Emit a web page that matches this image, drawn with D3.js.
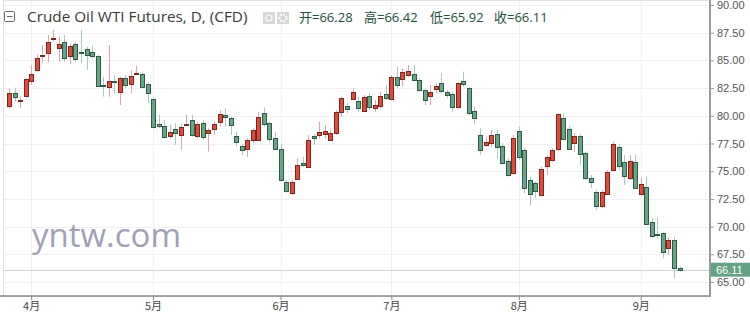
<!doctype html>
<html>
<head>
<meta charset="UTF-8">
<title>Crude Oil WTI Futures, D</title>
<style>
  body { margin: 0; background: #fff; }
  svg { display: block; }
</style>
</head>
<body>
<div id="chart"></div>
<script src="https://cdn.jsdelivr.net/npm/d3@7"></script>
<script>
// daily candles, late March to 11 Sep
var opens = [80.82, 82.03, 81.34, 81.73, 83.17, 84.07, 85.40, 85.73, 86.90, 86.15,
  86.69, 85.40, 86.45, 85.80, 86.03, 85.79, 85.43, 82.78, 82.63, 83.10,
  82.18, 83.44, 82.84, 83.80, 83.77, 82.84, 81.52, 79.23, 79.11, 78.21,
  78.78, 78.33, 79.20, 79.62, 78.18, 79.32, 78.42, 78.81, 79.41, 80.07,
  79.83, 78.18, 77.30, 77.00, 77.81, 77.81, 80.28, 79.32, 77.97, 76.97,
  74.06, 73.06, 74.30, 75.71, 75.35, 78.15, 78.27, 78.36, 77.87, 78.48,
  80.37, 80.88, 81.52, 81.37, 80.46, 81.79, 80.73, 80.88, 81.97, 81.49,
  83.53, 83.32, 83.68, 83.74, 83.23, 82.33, 81.82, 82.39, 82.93, 82.18,
  81.97, 80.82, 83.17, 82.48, 80.46, 78.27, 77.43, 77.52, 78.33, 77.30,
  75.95, 74.81, 78.66, 76.91, 74.21, 73.91, 72.85, 75.41, 76.01, 77.00,
  79.77, 78.81, 77.52, 78.21, 76.61, 74.42, 73.15, 71.86, 72.91, 75.11,
  77.22, 75.80, 74.45, 75.86, 72.91, 73.60, 70.38, 69.30, 69.39, 68.10,
  68.79, 66.28];
var highs = [82.48, 82.54, 81.82, 83.38, 84.59, 85.55, 86.39, 87.29, 87.74, 87.14,
  87.29, 86.54, 86.69, 87.74, 86.24, 86.33, 85.49, 83.53, 86.39, 83.68,
  83.53, 83.68, 84.13, 84.52, 83.98, 83.08, 81.58, 80.07, 79.62, 79.17,
  79.32, 79.23, 80.07, 80.07, 79.47, 79.62, 78.87, 79.47, 80.52, 80.67,
  79.92, 78.57, 77.51, 77.97, 78.87, 80.37, 80.76, 79.47, 78.57, 77.51,
  74.21, 74.21, 76.16, 76.31, 78.27, 78.36, 79.47, 79.17, 78.72, 80.52,
  81.73, 81.13, 82.48, 81.73, 81.88, 82.03, 81.43, 82.18, 82.78, 83.68,
  84.43, 84.28, 84.58, 84.58, 83.38, 82.48, 82.78, 82.93, 83.83, 82.33,
  82.18, 83.08, 83.98, 82.57, 80.82, 78.87, 78.12, 78.72, 78.72, 77.52,
  76.16, 78.27, 79.02, 77.07, 74.51, 74.06, 75.41, 76.46, 77.07, 80.22,
  80.22, 79.11, 78.42, 78.33, 76.76, 74.66, 73.30, 73.30, 75.11, 77.67,
  77.43, 76.46, 76.46, 76.52, 74.42, 74.51, 70.75, 70.81, 69.54, 69.09,
  69.09, 66.42];
var lows = [80.67, 81.28, 80.67, 81.64, 82.78, 83.98, 84.74, 84.83, 86.70, 84.89,
  84.89, 84.65, 84.89, 84.74, 84.14, 85.19, 82.63, 81.73, 81.73, 82.03,
  80.97, 82.48, 82.03, 83.68, 82.48, 81.12, 78.87, 78.87, 77.97, 77.97,
  77.37, 76.92, 79.17, 78.12, 77.97, 77.82, 76.77, 78.27, 79.02, 79.02,
  78.27, 77.21, 76.46, 76.31, 77.51, 77.81, 79.02, 77.67, 76.91, 74.06,
  73.06, 72.85, 74.21, 75.41, 75.26, 77.36, 77.97, 77.97, 77.81, 78.27,
  79.92, 80.22, 81.43, 80.37, 80.37, 80.52, 80.37, 80.67, 81.43, 81.43,
  82.48, 82.63, 83.53, 83.08, 82.18, 80.97, 80.97, 82.03, 82.03, 81.58,
  80.37, 80.67, 82.63, 80.07, 79.26, 76.46, 77.21, 77.21, 76.16, 75.56,
  74.51, 74.66, 76.01, 73.00, 71.95, 72.55, 72.70, 74.66, 75.86, 76.76,
  77.82, 76.91, 76.76, 75.50, 74.21, 73.45, 71.50, 71.65, 72.85, 75.02,
  75.11, 73.75, 74.21, 73.45, 72.79, 70.20, 68.94, 68.94, 67.14, 67.44,
  65.33, 65.92];
var closes = [82.03, 81.67, 81.43, 83.29, 83.77, 85.19, 85.50, 86.69, 87.00, 86.48,
  85.25, 86.30, 85.10, 85.70, 85.49, 85.40, 82.72, 82.70, 83.17, 83.00,
  83.44, 82.84, 83.59, 83.90, 82.63, 82.03, 79.02, 79.02, 78.12, 78.57,
  78.42, 79.02, 79.30, 78.27, 79.26, 78.06, 78.72, 79.26, 80.13, 79.86,
  79.23, 77.60, 76.91, 77.81, 78.72, 79.86, 79.26, 77.90, 77.00, 74.21,
  73.21, 74.06, 75.56, 75.50, 77.81, 77.93, 78.57, 78.66, 78.48, 80.37,
  81.64, 80.58, 82.18, 80.76, 81.73, 80.82, 80.97, 81.79, 81.60, 83.47,
  82.78, 83.98, 84.04, 83.17, 82.33, 81.43, 82.18, 82.69, 82.24, 81.88,
  80.76, 82.99, 82.87, 80.22, 79.86, 76.91, 77.67, 78.27, 77.13, 75.77,
  74.66, 77.97, 76.31, 73.52, 72.94, 73.15, 75.20, 76.25, 76.91, 80.13,
  77.91, 77.00, 78.18, 76.61, 74.36, 74.06, 71.89, 73.09, 74.90, 77.46,
  75.50, 74.51, 75.95, 73.52, 73.82, 70.29, 69.15, 69.21, 67.64, 68.80,
  66.23, 66.11];

// first candle of each month and its label
var monthIndex = [4, 26, 49, 69, 92, 114];
var monthLabels = ["4月", "5月", "6月", "7月", "8月", "9月"];
var priceTicks = [65, 67.5, 70, 72.5, 75, 77.5, 80, 82.5, 85, 87.5, 90];
var lastPrice = 66.11;
var legendNames = ["开", "高", "低", "收"];
var legendValues = ["66.28", "66.42", "65.92", "66.11"];

var width = 750, height = 313;
var plotRight = 710, plotBottom = 296;

var svg = d3.select("#chart")
  .append("svg")
    .attr("width", width)
    .attr("height", height)
    .style("font-family", "'Liberation Sans', Arial, sans-serif");

var x = d3.scaleLinear()
  .domain([-1.62, 126.5])
  .range([0, plotRight]);

var y = d3.scaleLinear()
  .domain([65, 90])
  .range([282, 5]);

// frame
svg.append("rect")
  .attr("x", 3.5).attr("y", 0.5)
  .attr("width", plotRight - 3).attr("height", plotBottom)
  .attr("fill", "none")
  .attr("stroke", "#e4e4e4");

// grid
svg.append("g")
  .selectAll("line")
  .data(priceTicks)
  .join("line")
    .attr("x1", 4).attr("x2", plotRight)
    .attr("y1", function(d) { return Math.round(y(d)) + 0.5; })
    .attr("y2", function(d) { return Math.round(y(d)) + 0.5; })
    .attr("stroke", "#f1f1f3");

svg.append("g")
  .selectAll("line")
  .data(monthIndex)
  .join("line")
    .attr("x1", function(d) { return Math.round(x(d)) + 0.5; })
    .attr("x2", function(d) { return Math.round(x(d)) + 0.5; })
    .attr("y1", 1).attr("y2", plotBottom)
    .attr("stroke", "#f1f1f3");

// watermark
svg.append("text")
  .attr("x", 32)
  .attr("y", 247)
  .attr("font-family", "'Open Sans', sans-serif")
  .attr("font-size", 33)
  .attr("fill", "#a0a0b6")
  .text("yntw.com");

// last price line
svg.append("line")
  .attr("x1", 4).attr("x2", plotRight)
  .attr("y1", Math.round(y(lastPrice)) + 0.5)
  .attr("y2", Math.round(y(lastPrice)) + 0.5)
  .attr("stroke", "#d2d2d2");

// candles
var idx = d3.range(opens.length);
function isUp(i) { return closes[i] >= opens[i]; }

svg.append("g")
  .selectAll("line")
  .data(idx)
  .join("line")
    .attr("x1", function(i) { return Math.round(x(i)) + 0.5; })
    .attr("x2", function(i) { return Math.round(x(i)) + 0.5; })
    .attr("y1", function(i) { return y(highs[i]); })
    .attr("y2", function(i) { return y(lows[i]); })
    .attr("stroke", function(i) { return isUp(i) ? "#eba2ad" : "#a3cdbf"; });

svg.append("g")
  .selectAll("rect")
  .data(idx)
  .join("rect")
    .attr("x", function(i) { return Math.round(x(i)) - 1.5; })
    .attr("width", 4)
    .attr("y", function(i) { return Math.round(y(Math.max(opens[i], closes[i]))) + 0.5; })
    .attr("height", function(i) { return Math.max(1, Math.round(Math.abs(y(opens[i]) - y(closes[i])))); })
    .attr("fill", function(i) { return isUp(i) ? "#e1493a" : "#66a585"; })
    .attr("stroke", function(i) { return isUp(i) ? "#7a281c" : "#2f5b46"; });

// right price axis
var yAxis = svg.append("g")
  .attr("transform", "translate(" + plotRight + ",0)")
  .call(d3.axisRight(y).tickValues(priceTicks).tickSize(4).tickPadding(3)
    .tickFormat(d3.format(".2f")));
yAxis.select(".domain").remove();
yAxis.selectAll(".tick line").attr("stroke", "#999");
yAxis.selectAll("text")
  .attr("fill", "#555")
  .attr("font-size", 11)
  .attr("font-family", "'Liberation Sans', Arial, sans-serif");

// bottom time axis
var xAxis = svg.append("g")
  .attr("transform", "translate(0," + plotBottom + ")")
  .call(d3.axisBottom(x).tickValues(monthIndex).tickSize(4).tickPadding(2)
    .tickFormat(function(d, i) { return monthLabels[i]; }));
xAxis.select(".domain").remove();
xAxis.selectAll(".tick line").attr("stroke", "#888");
xAxis.selectAll("text")
  .attr("fill", "#444")
  .attr("font-size", 11)
  .attr("font-family", "'Noto Sans CJK SC', sans-serif");

svg.append("line")
  .attr("x1", 0).attr("x2", plotRight + 1)
  .attr("y1", plotBottom).attr("y2", plotBottom)
  .attr("stroke", "#8a8a8a").attr("stroke-width", 1.5);
svg.append("line")
  .attr("x1", plotRight).attr("x2", plotRight)
  .attr("y1", 0).attr("y2", plotBottom)
  .attr("stroke", "#9a9a9a").attr("stroke-width", 2);

// last price tag
svg.append("rect")
  .attr("x", plotRight + 1).attr("y", y(lastPrice) - 7)
  .attr("width", width - plotRight - 1).attr("height", 14)
  .attr("fill", "#64a283");
svg.append("text")
  .attr("x", plotRight + 6).attr("y", y(lastPrice) + 4)
  .attr("font-size", 11)
  .attr("fill", "#fff")
  .text(d3.format(".2f")(lastPrice));

// header
var head = svg.append("g");
head.append("rect")
  .attr("x", 4.5).attr("y", 11.5).attr("width", 10).attr("height", 10)
  .attr("fill", "none").attr("stroke", "#666").attr("rx", 1);
head.append("line")
  .attr("x1", 7).attr("x2", 12.5).attr("y1", 16.5).attr("y2", 16.5)
  .attr("stroke", "#666");
head.append("text")
  .attr("x", 27).attr("y", 22)
  .attr("font-family", "'Open Sans', sans-serif")
  .attr("font-size", 15.3)
  .attr("fill", "#3a3a3a")
  .text("Crude Oil WTI Futures, D, (CFD)");

// eye / gear buttons
[263, 277].forEach(function(bx, k) {
  head.append("rect")
    .attr("x", bx).attr("y", 12).attr("width", 12).attr("height", 12)
    .attr("fill", "#d6d6d6");
  head.append("circle")
    .attr("cx", bx + 6).attr("cy", 18).attr("r", k === 0 ? 3 : 3.5)
    .attr("fill", "none").attr("stroke", "#fff").attr("stroke-width", k === 0 ? 1.2 : 2)
    .attr("stroke-dasharray", k === 0 ? null : "2,1.2");
});

var legendX = [299, 364, 430, 494];
legendNames.forEach(function(n, i) {
  head.append("text")
    .attr("x", legendX[i]).attr("y", 22)
    .attr("font-family", "'Open Sans', 'Noto Sans CJK SC', sans-serif")
    .attr("font-size", 13)
    .attr("fill", "#23503b")
    .text(n + "=" + legendValues[i]);
});
</script>
</body>
</html>
